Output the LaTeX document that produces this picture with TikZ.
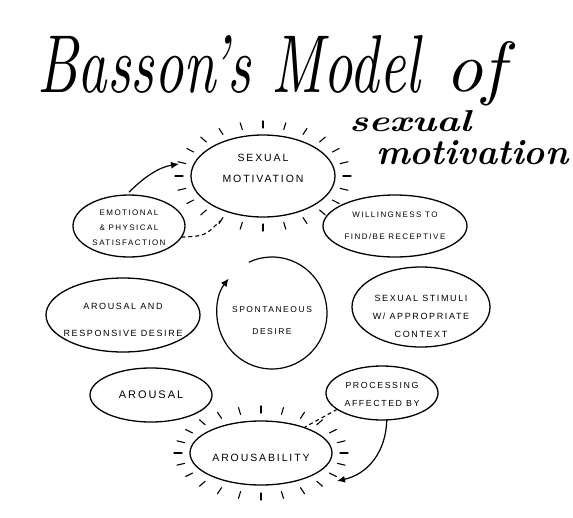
\documentclass[tikz,border=0pt]{standalone}
\usepackage{fontspec}
\usepackage{graphicx}
\usetikzlibrary{shapes.geometric,arrows.meta}
\newfontfamily\lblfont[LetterSpace=18]{Liberation Sans}
\newcommand\zbox[4]{\makebox[0pt]{\raisebox{#1}[0pt][0pt]{\lblfont\fontsize{#2}{#3}\selectfont\begin{tabular}{@{}c@{}}#4\end{tabular}}}}
\tikzset{
  bub/.style={draw, ellipse, line width=1.3pt, inner sep=0pt, outer sep=0pt},
  ray/.style={line width=1.1pt, line cap=round},
  arr/.style={line width=1.2pt, -{Latex[length=8pt,width=7pt]}},
  dsh/.style={line width=1.1pt, dashed, dash pattern=on 4pt off 3pt}
}
\begin{document}
\begin{tikzpicture}[x=1pt,y=-1pt]
\fill[white] (0,0) rectangle (573,517);
\useasboundingbox (0,0) rectangle (573,517);
% title
\node[anchor=base west, inner sep=0pt] (title) at (37,92) {\resizebox{383pt}{57pt}{\itshape Basson's Model}};
\node[anchor=base west, inner sep=0pt] (titleof) at (445,91) {\resizebox{60pt}{50pt}{\itshape of}};
\node[anchor=base west, inner sep=0pt] (sub1) at (349,131) {\resizebox{122pt}{21pt}{\bfseries\itshape sexual}};
\node[anchor=base west, inner sep=0pt] (sub2) at (376,164) {\resizebox{192pt}{24pt}{\bfseries\itshape motivation}};
% bubbles
\node[bub, minimum width=144pt, minimum height=82pt] (sm) at (263,176) {\zbox{5pt}{10.5}{21}{SEXUAL\\MOTIVATION}};
\node[bub, minimum width=112pt, minimum height=62pt] (emo) at (129,226) {\zbox{-3pt}{8}{15}{EMOTIONAL\\\& PHYSICAL\\SATISFACTION}};
\node[bub, minimum width=144pt, minimum height=62pt] (will) at (395,226) {\zbox{0pt}{8}{22}{WILLINGNESS TO\\FIND/BE RECEPTIVE}};
\node[bub, minimum width=154pt, minimum height=74pt] (ard) at (123,315) {\zbox{-5pt}{9}{27}{AROUSAL AND\\RESPONSIVE DESIRE}};
\node[ellipse, inner sep=0pt, minimum width=110pt, minimum height=112pt] (sd) at (272,313) {\zbox{-8pt}{8.5}{22}{SPONTANEOUS\\DESIRE}};
\node[bub, minimum width=138pt, minimum height=80pt] (ss) at (421,307) {\zbox{-11pt}{9}{18}{SEXUAL STIMULI\\W/ APPROPRIATE\\CONTEXT}};
\node[bub, minimum width=122pt, minimum height=54pt] (aro) at (151,395) {\zbox{-2pt}{11}{20}{AROUSAL}};
\node[bub, minimum width=112pt, minimum height=54pt] (proc) at (382,393) {\zbox{-3pt}{8.8}{18}{PROCESSING\\AFFECTED BY}};
\node[bub, minimum width=142pt, minimum height=64pt] (arb) at (261,453) {\zbox{-7pt}{10.5}{20}{AROUSABILITY}};
% rays
\foreach \a in {0,15,...,345}{
  \draw[ray] ([shift={(\a:80 and 48)}]sm.center) -- ([shift={(\a:88 and 55)}]sm.center);
  \draw[ray] ([shift={(\a:79 and 40)}]arb.center) -- ([shift={(\a:87 and 47)}]arb.center);
}
% connectors
\coordinate (smin) at (179,164);
\draw[arr, shorten <=4pt] (emo.95) .. controls (145,176) and (160,167) .. (smin);
\coordinate (smdash) at (220,221);
\draw[dsh] (emo.-12) .. controls (205,236) .. (smdash);
\draw[arr] (sd.center) ++(245:55 and 56) arc[start angle=245, end angle=578, x radius=55, y radius=56];
\coordinate (arbin) at (337,481);
\draw[arr] (proc.-80) .. controls (386,452) and (368,474) .. (arbin);
\coordinate (arbdash) at (305,427);
\draw[dsh] (proc.200) -- (arbdash);
\end{tikzpicture}
\end{document}
